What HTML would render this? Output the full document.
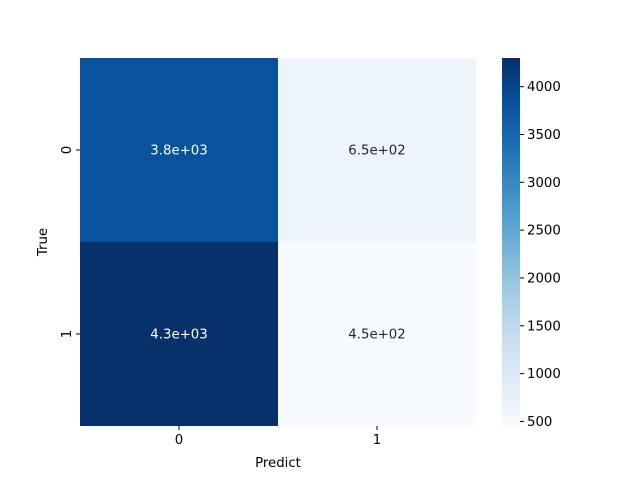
<!DOCTYPE html>
<html><head><meta charset="utf-8"><style>
body{margin:0;background:#fff;}
svg{display:block;font-family:"DejaVu Sans","Liberation Sans",sans-serif;}
</style></head><body>
<svg id="chart" width="640" height="480">
<defs><linearGradient id="blues" x1="0" y1="1" x2="0" y2="0">
<stop offset="0" stop-color="#f7fbff"/><stop offset="0.125" stop-color="#deebf7"/><stop offset="0.25" stop-color="#c6dbef"/><stop offset="0.375" stop-color="#9ecae1"/><stop offset="0.5" stop-color="#6baed6"/><stop offset="0.625" stop-color="#4292c6"/><stop offset="0.75" stop-color="#2171b5"/><stop offset="0.875" stop-color="#08519c"/><stop offset="1" stop-color="#08306b"/>
</linearGradient></defs>
<g id="cells"></g>
<rect x="502" y="58" width="18" height="368" fill="url(#blues)"/>
<g id="axes"></g>
<text x="278" y="467" font-size="13.3" text-anchor="middle">Predict</text>
<text transform="translate(47,242) rotate(-90)" font-size="13.3" text-anchor="middle">True</text>
</svg>
<script>
const rowLabels=["0","1"];
const colLabels=["0","1"];
const values=[[3800,650],[4300,452]];
const labels=[["3.8e+03","6.5e+02"],["4.3e+03","4.5e+02"]];
const cbTicks=[500,1000,1500,2000,2500,3000,3500,4000];
const NS="http://www.w3.org/2000/svg";
const X0=80,X1=476,Y0=58,Y1=426,CB0=502,CB1=520;
const flat=values.flat();const vmin=Math.min(...flat),vmax=Math.max(...flat);
const stops=["#f7fbff","#deebf7","#c6dbef","#9ecae1","#6baed6","#4292c6","#2171b5","#08519c","#08306b"];
function hex(c){return [1,3,5].map(i=>parseInt(c.substr(i,2),16));}
function color(v){let t=(v-vmin)/(vmax-vmin);t=Math.max(0,Math.min(1,t))*8;const i=Math.min(7,Math.floor(t)),f=t-i;const a=hex(stops[i]),b=hex(stops[i+1]);return "rgb("+a.map((x,k)=>Math.round(x+(b[k]-x)*f)).join(",")+")";}
function el(t,at,p){const e=document.createElementNS(NS,t);for(const k in at)e.setAttribute(k,at[k]);p.appendChild(e);return e;}
const cw=(X1-X0)/colLabels.length,ch=(Y1-Y0)/rowLabels.length;
const cells=document.getElementById("cells"),axes=document.getElementById("axes");
function cbY(v){return Y1-(v-vmin)/(vmax-vmin)*(Y1-Y0);}
values.forEach((row,r)=>row.forEach((v,c)=>{
 const rc=el("rect",{x:X0+c*cw,y:Y0+r*ch,width:cw,height:ch,fill:color(v)},cells);
 
 
 const t=el("text",{x:X0+(c+0.5)*cw,y:Y0+(r+0.5)*ch+4.5,"font-size":13.3,"text-anchor":"middle",fill:(v-vmin)/(vmax-vmin)>0.5?"#fff":"#262626"},cells);
 t.textContent=labels[r][c];
 
 
}));
colLabels.forEach((l,i)=>{const x=X0+(i+0.5)*cw;el("line",{x1:x,x2:x,y1:Y1,y2:Y1+4,stroke:"#000"},axes);
 const t=el("text",{x:x,y:Y1+18,"font-size":13.3,"text-anchor":"middle"},axes);t.textContent=l;
 
 });
rowLabels.forEach((l,i)=>{const y=Y0+(i+0.5)*ch;el("line",{x1:X0-4,x2:X0,y1:y,y2:y,stroke:"#000"},axes);
 const t=el("text",{transform:"translate("+(X0-9)+","+y+") rotate(-90)","font-size":13.3,"text-anchor":"middle"},axes);t.textContent=l;
 
 });
cbTicks.forEach(v=>{const y=cbY(v);if(y<Y0-0.5||y>Y1+0.5)return;el("line",{x1:CB1,x2:CB1+4,y1:y,y2:y,stroke:"#000"},axes);
 const t=el("text",{x:CB1+7,y:y+4.5,"font-size":13.3},axes);t.textContent=v;
 
 });
</script>
</body></html>
